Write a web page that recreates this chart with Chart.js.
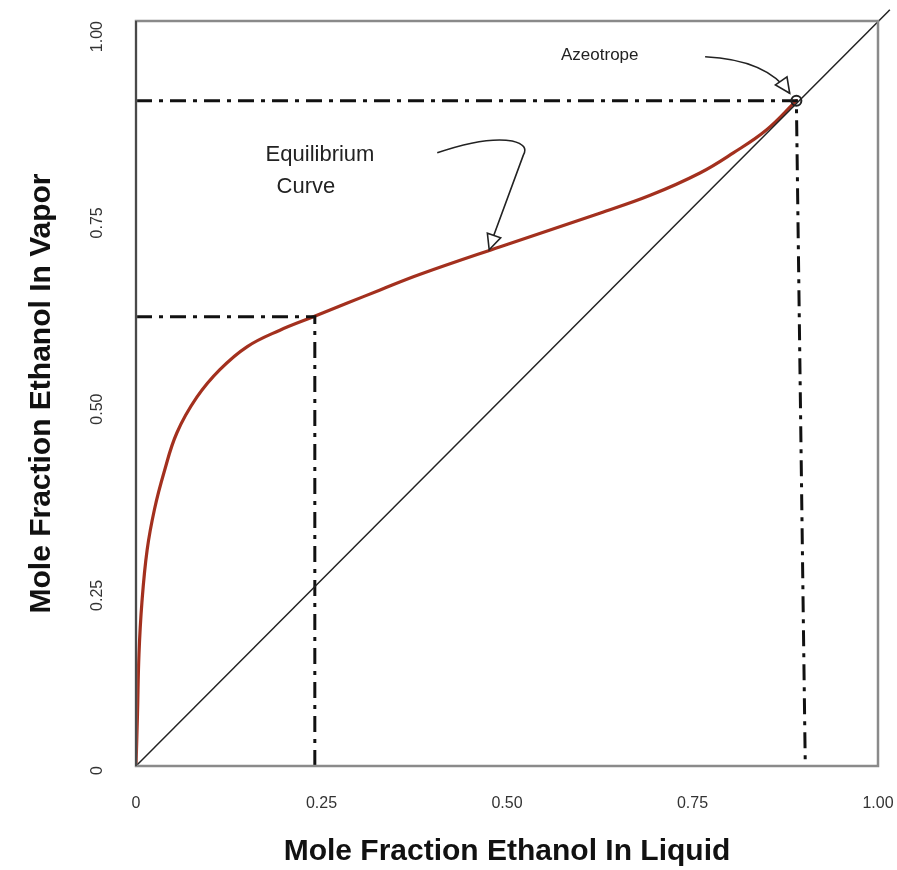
<!DOCTYPE html>
<html><head><meta charset="utf-8">
<script src="https://cdn.jsdelivr.net/npm/chart.js@4"></script>
<style>html,body{margin:0;padding:0;background:#fff}#wrap{width:897px;height:870px}</style>
</head><body><div id="wrap"><canvas id="c" width="897" height="870"></canvas></div>
<script>
// Equilibrium curve (liquid x, vapor y)
const curveX = [0, 0.002, 0.004, 0.008, 0.015, 0.025, 0.038, 0.055, 0.082, 0.113, 0.150, 0.194, 0.239, 0.284, 0.329, 0.383, 0.491, 0.625, 0.693, 0.760, 0.805, 0.850, 0.89];
const curveY = [0, 0.07, 0.15, 0.22, 0.29, 0.345, 0.395, 0.447, 0.495, 0.532, 0.563, 0.585, 0.603, 0.621, 0.639, 0.660, 0.697, 0.742, 0.766, 0.796, 0.823, 0.854, 0.893];
// y = x reference line
const diagX = [0, 1.016];
const diagY = [0, 1.015];
// construction lines
const feedX = 0.241, feedY = 0.603;
const azeoX = 0.89, azeoY = 0.893, azeoFootX = 0.902;
const tickLabels = ['0', '0.25', '0.50', '0.75', '1.00'];
const tickValues = [0, 0.25, 0.5, 0.75, 1.0];

const pts = (xs, ys) => xs.map((x, i) => ({x, y: ys[i]}));
const dashDot = [16, 7, 4, 7];
const FONT = '"Liberation Sans", Arial, sans-serif';

const annot = {
  id: 'annot',
  afterDatasetsDraw(chart) {
    const {ctx, scales: {x, y}, chartArea: a} = chart;
    const P = (vx, vy) => [x.getPixelForValue(vx), y.getPixelForValue(vy)];
    ctx.save();
    // frame
    ctx.strokeStyle = '#8a8a8a'; ctx.lineWidth = 2.5;
    ctx.strokeRect(a.left, a.top, a.right - a.left, a.bottom - a.top);
    ctx.strokeStyle = '#333'; ctx.lineWidth = 1.5;
    ctx.beginPath(); ctx.moveTo(a.left, a.top); ctx.lineTo(a.left, a.bottom); ctx.stroke();
    // texts
    ctx.fillStyle = '#222'; ctx.textAlign = 'center'; ctx.textBaseline = 'middle';
    ctx.font = '22px ' + FONT;
    let p = P(0.248, 0.82); ctx.fillText('Equilibrium', p[0], p[1]);
    p = P(0.229, 0.777); ctx.fillText('Curve', p[0], p[1]);
    ctx.font = '17px ' + FONT;
    p = P(0.625, 0.954); ctx.fillText('Azeotrope', p[0], p[1]);
    // arrows
    const head = (tx, ty, ang) => {
      const L = 15, W = 7;
      const bx = tx - L * Math.cos(ang), by = ty - L * Math.sin(ang);
      const nx = -Math.sin(ang), ny = Math.cos(ang);
      ctx.beginPath();
      ctx.moveTo(tx, ty); ctx.lineTo(bx + nx * W, by + ny * W); ctx.lineTo(bx - nx * W, by - ny * W); ctx.closePath();
      ctx.fillStyle = '#fff'; ctx.fill(); ctx.stroke();
    };
    ctx.strokeStyle = '#222'; ctx.lineWidth = 1.6;
    // equilibrium arrow
    let s = P(0.406, 0.823), c1 = P(0.47, 0.845), m = P(0.507, 0.839), k = P(0.522, 0.828), e = P(0.481, 0.709), t = P(0.476, 0.693);
    ctx.beginPath(); ctx.moveTo(s[0], s[1]);
    ctx.quadraticCurveTo(c1[0], c1[1], m[0], m[1]);
    ctx.quadraticCurveTo(k[0] + 6, k[1] - 4, k[0], k[1] + 6);
    ctx.lineTo(e[0], e[1]); ctx.stroke();
    head(t[0], t[1], Math.atan2(t[1] - k[1], t[0] - k[0]));
    // azeotrope arrow
    s = P(0.767, 0.952); c1 = P(0.85, 0.948); t = P(0.881, 0.903);
    ctx.beginPath(); ctx.moveTo(s[0], s[1]); ctx.quadraticCurveTo(c1[0], c1[1], t[0], t[1]); ctx.stroke();
    head(t[0], t[1], Math.atan2(t[1] - c1[1], t[0] - c1[0]));
    // azeotrope marker
    p = P(azeoX, azeoY);
    ctx.beginPath(); ctx.arc(p[0], p[1], 5, 0, Math.PI * 2); ctx.lineWidth = 2; ctx.stroke();
    ctx.restore();
  }
};

new Chart(document.getElementById('c'), {
  type: 'scatter',
  data: {
    datasets: [
      {data: pts(diagX, diagY), showLine: true, borderColor: '#222', borderWidth: 1.5, pointRadius: 0, clip: false},
      {data: [{x: 0, y: feedY}, {x: feedX, y: feedY}, {x: feedX, y: 0}], showLine: true, borderColor: '#111', borderWidth: 3, borderDash: dashDot, pointRadius: 0},
      {data: [{x: 0, y: azeoY}, {x: azeoX, y: azeoY}, {x: azeoFootX, y: 0}], showLine: true, borderColor: '#111', borderWidth: 3, borderDash: dashDot, pointRadius: 0},
      {data: pts(curveX, curveY), showLine: true, borderColor: '#a3301e', borderWidth: 3.2, pointRadius: 0, tension: 0.4, borderCapStyle: 'round', borderJoinStyle: 'round'}
    ]
  },
  options: {
    responsive: false, animation: false, devicePixelRatio: 1,
    layout: {padding: {left: 0, top: 21, right: 19, bottom: 0}},
    plugins: {legend: {display: false}, tooltip: {enabled: false}},
    scales: {
      x: {
        type: 'linear', min: 0, max: 1,
        grid: {display: false, drawTicks: false}, border: {display: false},
        afterBuildTicks: (s) => { s.ticks = tickValues.map(v => ({value: v})); },
        afterFit: (s) => { s.height = 104; s.paddingLeft = 0; s.paddingRight = 0; },
        ticks: {callback: (v, i) => tickLabels[i], color: '#333', font: {size: 16, family: FONT}, padding: 28, maxRotation: 0},
        title: {display: true, text: 'Mole Fraction Ethanol In Liquid', color: '#111', font: {size: 30, weight: 'bold', family: FONT}, padding: {top: 6, bottom: 0}}
      },
      y: {
        type: 'linear', min: 0, max: 1,
        grid: {display: false, drawTicks: false}, border: {display: false},
        afterBuildTicks: (s) => { s.ticks = tickValues.map(v => ({value: v})); },
        afterFit: (s) => { s.width = 136; s.paddingTop = 0; s.paddingBottom = 0; },
        ticks: {callback: (v, i) => tickLabels[i], color: '#333', font: {size: 16, family: FONT}, padding: 38, minRotation: 90, maxRotation: 90},
        title: {display: true, text: 'Mole Fraction Ethanol In Vapor', color: '#111', font: {size: 30, weight: 'bold', family: FONT}, padding: {top: 24, bottom: 0}}
      }
    }
  },
  plugins: [annot]
});
</script></body></html>
